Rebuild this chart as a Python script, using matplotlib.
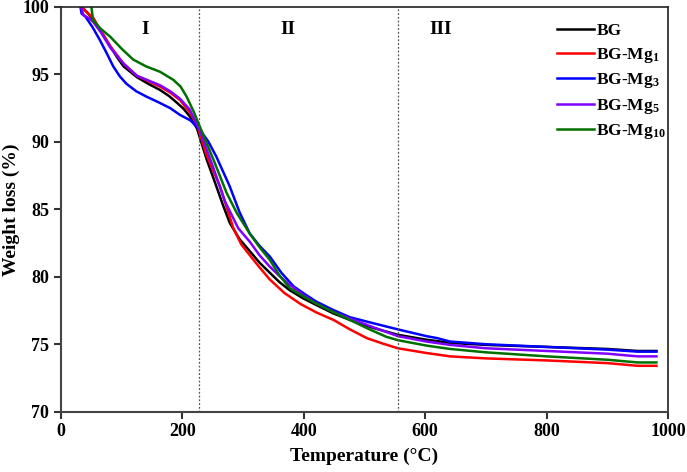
import matplotlib
matplotlib.use("Agg")
import matplotlib.pyplot as plt

plt.rcParams['font.family'] = ['Liberation Serif', 'DejaVu Serif']
plt.rcParams['font.weight'] = 'bold'
plt.rcParams['mathtext.fontset'] = 'custom'
plt.rcParams['mathtext.rm'] = 'Liberation Serif:bold'
plt.rcParams['mathtext.it'] = 'Liberation Serif:bold'
plt.rcParams['mathtext.bf'] = 'Liberation Serif:bold'

labels = ['BG', 'BG-Mg$_1$', 'BG-Mg$_3$', 'BG-Mg$_5$', 'BG-Mg$_{10}$']
colors = ['#000000', '#ff0000', '#0000ff', '#7f00ff', '#007000']

t_bg = [34, 43, 53, 66, 81, 92, 103, 114, 125, 144, 163, 178, 191, 202, 212, 224, 240, 256, 267, 278, 294, 311, 327, 344, 360, 377, 399, 421, 448, 476, 515, 555, 600, 641, 700, 800, 900, 950, 981]
w_bg = [100, 99.6, 99.1, 98.2, 97.1, 96.3, 95.6, 95.2, 94.8, 94.3, 93.85, 93.4, 92.9, 92.45, 91.9, 91.0, 88.7, 86.7, 85.3, 84.0, 82.8, 81.9, 81.05, 80.3, 79.6, 79.0, 78.4, 77.9, 77.3, 76.8, 76.2, 75.7, 75.35, 75.1, 74.95, 74.8, 74.65, 74.5, 74.5]

t_mg1 = [34, 43, 53, 66, 81, 103, 125, 144, 163, 180, 196, 212, 224, 240, 262, 284, 297, 311, 327, 344, 368, 394, 421, 449, 476, 504, 530, 555, 602, 641, 700, 800, 900, 950, 981]
w_mg1 = [100, 99.6, 99.2, 98.2, 97.1, 95.8, 94.9, 94.5, 94.1, 93.65, 93.1, 92.2, 91.3, 89.0, 86.7, 83.6, 82.4, 81.6, 80.7, 79.8, 78.8, 78.0, 77.35, 76.8, 76.1, 75.45, 75.05, 74.7, 74.35, 74.1, 73.95, 73.8, 73.6, 73.4, 73.4]

t_mg3 = [32, 34, 40, 52, 64, 75, 86, 97, 108, 124, 141, 160, 180, 196, 213, 229, 243, 256, 267, 278, 294, 311, 327, 344, 363, 383, 402, 421, 448, 476, 515, 555, 602, 620, 641, 700, 800, 900, 950, 981]
w_mg3 = [100, 99.5, 99.3, 98.5, 97.55, 96.6, 95.6, 94.85, 94.3, 93.75, 93.35, 92.95, 92.5, 92.0, 91.6, 90.9, 90.0, 88.9, 87.8, 86.7, 84.8, 83.2, 82.3, 81.5, 80.3, 79.3, 78.7, 78.15, 77.55, 77.0, 76.55, 76.1, 75.6, 75.45, 75.2, 75.0, 74.8, 74.6, 74.45, 74.45]

t_mg5 = [33, 37, 45, 53, 66, 81, 103, 125, 144, 163, 180, 196, 212, 229, 250, 270, 292, 311, 327, 344, 360, 377, 399, 421, 448, 476, 515, 555, 602, 641, 700, 800, 900, 950, 981]
w_mg5 = [100, 99.4, 99.2, 98.9, 98.1, 97.0, 95.8, 94.9, 94.55, 94.2, 93.75, 93.2, 92.4, 90.8, 88.2, 85.6, 83.6, 82.6, 81.6, 80.75, 80.05, 79.4, 78.65, 78.0, 77.4, 76.9, 76.25, 75.6, 75.2, 74.95, 74.7, 74.5, 74.3, 74.1, 74.1]

t_mg10 = [50, 53, 65, 81, 100, 119, 140, 163, 185, 197, 207, 218, 229, 251, 273, 290, 311, 327, 344, 360, 377, 399, 421, 448, 476, 506, 536, 555, 602, 641, 700, 800, 900, 950, 981]
w_mg10 = [100, 99.0, 98.4, 97.8, 96.9, 96.1, 95.6, 95.2, 94.6, 94.1, 93.35, 92.3, 91.1, 88.7, 86.2, 84.7, 83.2, 82.2, 81.25, 80.1, 79.15, 78.55, 78.0, 77.4, 76.8, 76.15, 75.55, 75.3, 74.9, 74.65, 74.4, 74.1, 73.85, 73.65, 73.65]

series = [(t_bg, w_bg), (t_mg1, w_mg1), (t_mg3, w_mg3), (t_mg5, w_mg5), (t_mg10, w_mg10)]

region_labels = ['I', 'II', 'III']
region_x = [138, 374, 626]
boundaries = [227, 555]
xticks = [0, 200, 400, 600, 800, 1000]
yticks = [70, 75, 80, 85, 90, 95, 100]

fig = plt.figure(figsize=(6.87, 4.72), dpi=100)
ax = fig.add_axes([0.0888, 0.1278, 0.8835, 0.8574])

for (t, w), c, lab in zip(series, colors, labels):
    ax.plot(t, w, color=c, lw=1.8, label=lab, solid_joinstyle='round')

for b in boundaries:
    ax.axvline(b, color='#555555', lw=0.9, ls=(0, (1.5, 1.5)))

for lab, x in zip(region_labels, region_x):
    ax.text(x, 98.3, lab, ha='center', va='center', fontsize=14, fontweight='bold')

ax.set_xlim(0, 1000)
ax.set_ylim(70, 100)
ax.set_xticks(xticks)
ax.set_yticks(yticks)
ax.tick_params(axis='both', which='both', direction='out', length=5, width=1.5,
               labelsize=13, top=False, right=False, color='#333333')
for lbl in ax.get_xticklabels() + ax.get_yticklabels():
    lbl.set_fontweight('bold')
for s in ['left', 'bottom']:
    ax.spines[s].set_linewidth(1.5)
    ax.spines[s].set_color('#444444')
for s in ['top', 'right']:
    ax.spines[s].set_linewidth(1.2)
    ax.spines[s].set_color('#222222')

ax.set_xlabel('Temperature (°C)', fontsize=14, fontweight='bold', labelpad=5)
ax.set_ylabel('Weight loss (%)', fontsize=14, fontweight='bold', labelpad=2)

leg = ax.legend(loc='upper left', bbox_to_anchor=(0.806, 0.978), frameon=False,
                handlelength=2.1, handletextpad=0.15, labelspacing=0.38,
                prop={'family': 'Liberation Serif', 'weight': 'bold', 'size': 12.5},
                borderaxespad=0)

fig.savefig('out.png', dpi=100)
